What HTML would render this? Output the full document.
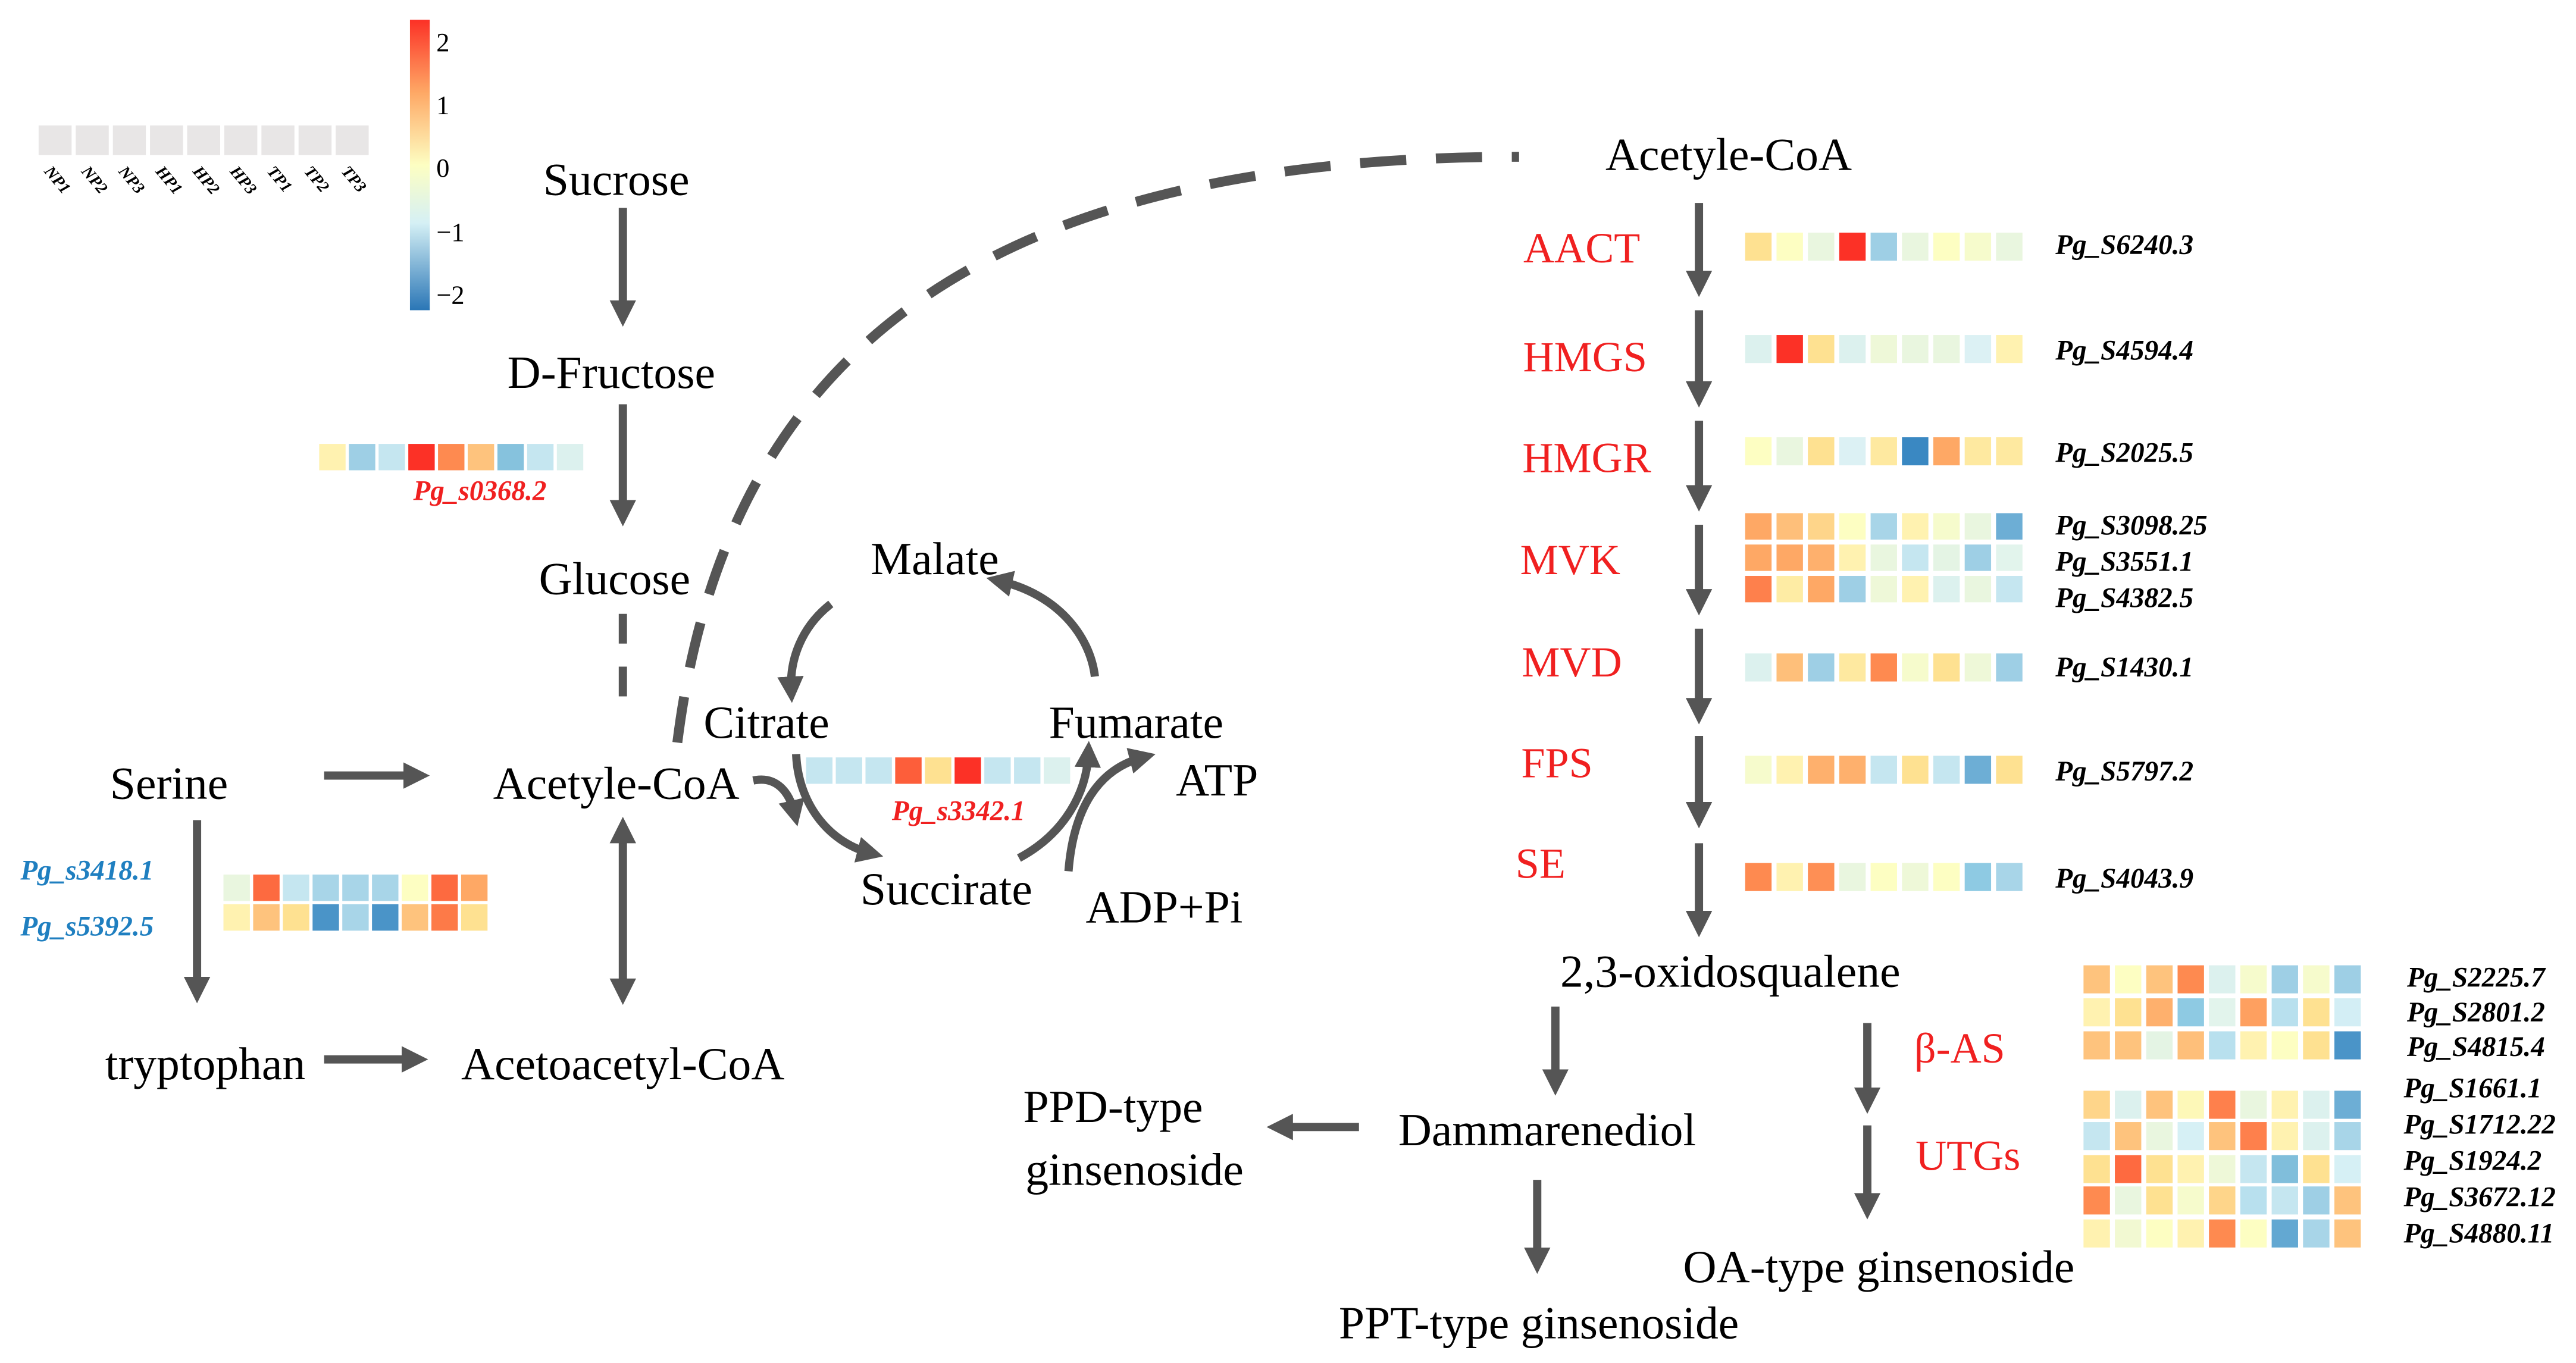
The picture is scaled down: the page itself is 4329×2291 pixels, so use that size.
<!DOCTYPE html>
<html><head><meta charset="utf-8"><style>html,body{margin:0;padding:0;background:#fff}svg{display:block}</style></head><body>
<svg width="4329" height="2291" viewBox="0 0 1560 826" xmlns="http://www.w3.org/2000/svg" font-family="'Liberation Serif', 'DejaVu Serif', serif">
<defs>
<marker id="ah" viewBox="0 0 10 10" refX="5" refY="5" markerWidth="3.2" markerHeight="3.2" orient="auto-start-reverse"><path d="M0,0 L10,5 L0,10 z" fill="#555"/></marker>
<linearGradient id="cb" x1="0" y1="0" x2="0" y2="1">
<stop offset="0" stop-color="#fc3126"/><stop offset="0.25" stop-color="#fea865"/><stop offset="0.5" stop-color="#fdfec2"/><stop offset="0.7" stop-color="#d5f0f5"/><stop offset="1" stop-color="#2a76b6"/></linearGradient>
</defs>
<g fill="#e8e6e6">
<rect x="23" y="76" width="20" height="18"/><rect x="45.5" y="76" width="20" height="18"/><rect x="68" y="76" width="20" height="18"/><rect x="90.5" y="76" width="20" height="18"/><rect x="113" y="76" width="20" height="18"/><rect x="135.5" y="76" width="20" height="18"/><rect x="158" y="76" width="20" height="18"/><rect x="180.5" y="76" width="20" height="18"/><rect x="203" y="76" width="20" height="18"/>
</g>
<g font-size="10" font-weight="bold" font-style="italic">
<text transform="translate(26,104) rotate(50)">NP1</text><text transform="translate(48.5,104) rotate(50)">NP2</text><text transform="translate(71,104) rotate(50)">NP3</text><text transform="translate(93.5,104) rotate(50)">HP1</text><text transform="translate(116,104) rotate(50)">HP2</text><text transform="translate(138.5,104) rotate(50)">HP3</text><text transform="translate(161,104) rotate(50)">TP1</text><text transform="translate(183.5,104) rotate(50)">TP2</text><text transform="translate(206,104) rotate(50)">TP3</text>
</g>
<rect x="248" y="12" width="12" height="176" fill="url(#cb)"/>
<g font-size="16"><text x="264" y="31">2</text><text x="264" y="69">1</text><text x="264" y="107">0</text><text x="264" y="146">−1</text><text x="264" y="184">−2</text></g>

<g font-size="28" text-anchor="middle">
<text x="373" y="118">Sucrose</text><text x="370" y="235">D-Fructose</text><text x="372" y="360">Glucose</text>
<text x="373" y="484">Acetyle-CoA</text><text x="102" y="484">Serine</text><text x="124" y="654">tryptophan</text>
<text x="377" y="654">Acetoacetyl-CoA</text><text x="566" y="348">Malate</text><text x="464" y="447">Citrate</text>
<text x="688" y="447">Fumarate</text><text x="737" y="482">ATP</text><text x="573" y="548">Succirate</text><text x="705" y="559">ADP+Pi</text>
<text x="1047" y="103">Acetyle-CoA</text><text x="1048" y="598">2,3-oxidosqualene</text>
<text x="674" y="680">PPD-type</text><text x="687" y="718">ginsenoside</text>
<text x="937" y="694">Dammarenediol</text><text x="932" y="811">PPT-type ginsenoside</text><text x="1138" y="777">OA-type ginsenoside</text>
</g>
<g font-size="26" fill="#f02020" text-anchor="middle">
<text x="958" y="159">AACT</text><text x="960" y="225">HMGS</text><text x="961" y="286">HMGR</text><text x="951" y="348">MVK</text><text x="952" y="410">MVD</text><text x="943" y="471">FPS</text><text x="933" y="532">SE</text>
<text x="1187" y="644">β-AS</text><text x="1192" y="709">UTGs</text>
</g>

<g stroke="#555" stroke-width="5" fill="none" marker-end="url(#ah)">
<path d="M377,126 V190"/><path d="M377,245 V311"/>
<path d="M196,470 H252"/><path d="M119,497 V600"/><path d="M196,642 H251"/>
<path d="M377,503 V601" marker-start="url(#ah)"/>
<path d="M1029,123 V172"/><path d="M1029,188 V239"/><path d="M1029,255 V302"/><path d="M1029,318 V365"/><path d="M1029,381 V431"/><path d="M1029,446 V494"/><path d="M1029,511 V560"/>
<path d="M942,610 V656"/><path d="M1131,620 V667"/><path d="M1131,682 V731"/>
<path d="M823,683 H775"/><path d="M931,715 V764"/>
<path d="M503,366 C485,380 478,400 479,418"/>
<path d="M663,410 C660,385 640,360 605,352"/>
<path d="M482,457 C483,485 500,510 527,517"/>
<path d="M617,520 C645,505 658,480 659,457"/>
<path d="M456,473 C470,470 478,480 481,493"/>
<path d="M647,528 C650,490 665,466 692,459"/>
</g>
<g stroke="#555" stroke-width="5" fill="none" stroke-dasharray="18,14">
<path d="M377,372 V434"/>
</g>
<path d="M410,450 C440,210 600,95 920,95" stroke="#555" stroke-width="6" fill="none" stroke-dasharray="28,18"/>

<g>
<g transform="translate(193,269)"><rect x="0" width="16" height="16" fill="#fff2b0"/><rect x="18" width="16" height="16" fill="#9ecfe5"/><rect x="36" width="16" height="16" fill="#c5e6f0"/><rect x="54" width="16" height="16" fill="#fc3126"/><rect x="72" width="16" height="16" fill="#fe8a50"/><rect x="90" width="16" height="16" fill="#fec37d"/><rect x="108" width="16" height="16" fill="#86c2dd"/><rect x="126" width="16" height="16" fill="#c5e6f0"/><rect x="144" width="16" height="16" fill="#dcf1ee"/></g>
<g transform="translate(488,459)"><rect x="0" width="16" height="16" fill="#c5e6f0"/><rect x="18" width="16" height="16" fill="#c5e6f0"/><rect x="36" width="16" height="16" fill="#c5e6f0"/><rect x="54" width="16" height="16" fill="#fd5e3a"/><rect x="72" width="16" height="16" fill="#fee191"/><rect x="90" width="16" height="16" fill="#fc3126"/><rect x="108" width="16" height="16" fill="#c5e6f0"/><rect x="126" width="16" height="16" fill="#c5e6f0"/><rect x="144" width="16" height="16" fill="#dcf1ee"/></g>
<g transform="translate(135,530)"><rect x="0" width="16" height="16" fill="#e9f6df"/><rect x="18" width="16" height="16" fill="#fd6a40"/><rect x="36" width="16" height="16" fill="#c5e6f0"/><rect x="54" width="16" height="16" fill="#a8d5e8"/><rect x="72" width="16" height="16" fill="#a8d5e8"/><rect x="90" width="16" height="16" fill="#a8d5e8"/><rect x="108" width="16" height="16" fill="#fdfec2"/><rect x="126" width="16" height="16" fill="#fd6a40"/><rect x="144" width="16" height="16" fill="#fea865"/></g>
<g transform="translate(135,548)"><rect x="0" width="16" height="16" fill="#fff2b0"/><rect x="18" width="16" height="16" fill="#fec37d"/><rect x="36" width="16" height="16" fill="#fee191"/><rect x="54" width="16" height="16" fill="#4a94c8"/><rect x="72" width="16" height="16" fill="#a8d5e8"/><rect x="90" width="16" height="16" fill="#4a94c8"/><rect x="108" width="16" height="16" fill="#fec37d"/><rect x="126" width="16" height="16" fill="#fd7a48"/><rect x="144" width="16" height="16" fill="#fee191"/></g>
</g>
<g font-size="17" font-weight="bold" font-style="italic">
<text x="250" y="303" fill="#f02020">Pg_s0368.2</text>
<text x="540" y="497" fill="#f02020">Pg_s3342.1</text>
<text x="12" y="533" fill="#1f7fc0">Pg_s3418.1</text>
<text x="12" y="567" fill="#1f7fc0">Pg_s5392.5</text>
</g>

<g>
<g transform="translate(1057,141)"><rect x="0" width="16" height="17" fill="#fee191"/><rect x="19" width="16" height="17" fill="#fdfec2"/><rect x="38" width="16" height="17" fill="#e9f6df"/><rect x="57" width="16" height="17" fill="#fc3126"/><rect x="76" width="16" height="17" fill="#9ecfe5"/><rect x="95" width="16" height="17" fill="#e9f6df"/><rect x="114" width="16" height="17" fill="#fdfec2"/><rect x="133" width="16" height="17" fill="#f6fbcc"/><rect x="152" width="16" height="17" fill="#e9f6df"/></g>
<g transform="translate(1057,203)"><rect x="0" width="16" height="17" fill="#dcf1ee"/><rect x="19" width="16" height="17" fill="#fc3126"/><rect x="38" width="16" height="17" fill="#fee191"/><rect x="57" width="16" height="17" fill="#dcf1ee"/><rect x="76" width="16" height="17" fill="#eef8d8"/><rect x="95" width="16" height="17" fill="#e9f6df"/><rect x="114" width="16" height="17" fill="#e9f6df"/><rect x="133" width="16" height="17" fill="#dcf1f4"/><rect x="152" width="16" height="17" fill="#fff2b0"/></g>
<g transform="translate(1057,265)"><rect x="0" width="16" height="17" fill="#fdfec2"/><rect x="19" width="16" height="17" fill="#e9f6df"/><rect x="38" width="16" height="17" fill="#fee191"/><rect x="57" width="16" height="17" fill="#dcf1f4"/><rect x="76" width="16" height="17" fill="#fee9a0"/><rect x="95" width="16" height="17" fill="#3a88c2"/><rect x="114" width="16" height="17" fill="#fea865"/><rect x="133" width="16" height="17" fill="#fee9a0"/><rect x="152" width="16" height="17" fill="#fee9a0"/></g>
<g transform="translate(1057,311)"><rect x="0" width="16" height="16" fill="#fea865"/><rect x="19" width="16" height="16" fill="#febf7a"/><rect x="38" width="16" height="16" fill="#fed58a"/><rect x="57" width="16" height="16" fill="#fdfec2"/><rect x="76" width="16" height="16" fill="#a8d5e8"/><rect x="95" width="16" height="16" fill="#fff2b0"/><rect x="114" width="16" height="16" fill="#f6fbcc"/><rect x="133" width="16" height="16" fill="#e9f6df"/><rect x="152" width="16" height="16" fill="#6daed5"/></g>
<g transform="translate(1057,330)"><rect x="0" width="16" height="16" fill="#fea865"/><rect x="19" width="16" height="16" fill="#fea865"/><rect x="38" width="16" height="16" fill="#feb06d"/><rect x="57" width="16" height="16" fill="#fff2b0"/><rect x="76" width="16" height="16" fill="#e9f6df"/><rect x="95" width="16" height="16" fill="#c5e6f0"/><rect x="114" width="16" height="16" fill="#e4f4e4"/><rect x="133" width="16" height="16" fill="#9ecfe5"/><rect x="152" width="16" height="16" fill="#e2f4ec"/></g>
<g transform="translate(1057,349)"><rect x="0" width="16" height="16" fill="#fe804c"/><rect x="19" width="16" height="16" fill="#feeca4"/><rect x="38" width="16" height="16" fill="#fea865"/><rect x="57" width="16" height="16" fill="#9ecfe5"/><rect x="76" width="16" height="16" fill="#eef8d8"/><rect x="95" width="16" height="16" fill="#fff2b0"/><rect x="114" width="16" height="16" fill="#dcf1ee"/><rect x="133" width="16" height="16" fill="#e9f6df"/><rect x="152" width="16" height="16" fill="#c5e6f0"/></g>
<g transform="translate(1057,396)"><rect x="0" width="16" height="17" fill="#dcf1ee"/><rect x="19" width="16" height="17" fill="#febf7a"/><rect x="38" width="16" height="17" fill="#9ecfe5"/><rect x="57" width="16" height="17" fill="#fee9a0"/><rect x="76" width="16" height="17" fill="#fe8a50"/><rect x="95" width="16" height="17" fill="#f6fbcc"/><rect x="114" width="16" height="17" fill="#fee191"/><rect x="133" width="16" height="17" fill="#eef8d8"/><rect x="152" width="16" height="17" fill="#9ecfe5"/></g>
<g transform="translate(1057,458)"><rect x="0" width="16" height="17" fill="#f6fbcc"/><rect x="19" width="16" height="17" fill="#fff2b0"/><rect x="38" width="16" height="17" fill="#feb06d"/><rect x="57" width="16" height="17" fill="#feb06d"/><rect x="76" width="16" height="17" fill="#c5e6f0"/><rect x="95" width="16" height="17" fill="#fee191"/><rect x="114" width="16" height="17" fill="#c5e6f0"/><rect x="133" width="16" height="17" fill="#6daed5"/><rect x="152" width="16" height="17" fill="#fee191"/></g>
<g transform="translate(1057,523)"><rect x="0" width="16" height="17" fill="#fe8a50"/><rect x="19" width="16" height="17" fill="#fff2b0"/><rect x="38" width="16" height="17" fill="#fe8f55"/><rect x="57" width="16" height="17" fill="#e9f6df"/><rect x="76" width="16" height="17" fill="#fdfec2"/><rect x="95" width="16" height="17" fill="#eef8d8"/><rect x="114" width="16" height="17" fill="#fdfec2"/><rect x="133" width="16" height="17" fill="#8ecae3"/><rect x="152" width="16" height="17" fill="#a8d5e8"/></g>
</g>
<g font-size="17" font-weight="bold" font-style="italic">
<text x="1245" y="154">Pg_S6240.3</text><text x="1245" y="218">Pg_S4594.4</text><text x="1245" y="280">Pg_S2025.5</text>
<text x="1245" y="324">Pg_S3098.25</text><text x="1245" y="346">Pg_S3551.1</text><text x="1245" y="368">Pg_S4382.5</text>
<text x="1245" y="410">Pg_S1430.1</text><text x="1245" y="473">Pg_S5797.2</text><text x="1245" y="538">Pg_S4043.9</text>
</g>

<g>
<g transform="translate(1262,585)"><rect x="0" width="16" height="17" fill="#fec37d"/><rect x="19" width="16" height="17" fill="#fdfec2"/><rect x="38" width="16" height="17" fill="#fec37d"/><rect x="57" width="16" height="17" fill="#fe8a50"/><rect x="76" width="16" height="17" fill="#dcf1ee"/><rect x="95" width="16" height="17" fill="#f6fbcc"/><rect x="114" width="16" height="17" fill="#9ecfe5"/><rect x="133" width="16" height="17" fill="#f6fbcc"/><rect x="152" width="16" height="17" fill="#9ecfe5"/></g>
<g transform="translate(1262,605)"><rect x="0" width="16" height="17" fill="#fff2b0"/><rect x="19" width="16" height="17" fill="#fee191"/><rect x="38" width="16" height="17" fill="#feb06d"/><rect x="57" width="16" height="17" fill="#8ecae3"/><rect x="76" width="16" height="17" fill="#e2f4ec"/><rect x="95" width="16" height="17" fill="#fea060"/><rect x="114" width="16" height="17" fill="#b8e0ee"/><rect x="133" width="16" height="17" fill="#fee191"/><rect x="152" width="16" height="17" fill="#d3eef5"/></g>
<g transform="translate(1262,625)"><rect x="0" width="16" height="17" fill="#fec37d"/><rect x="19" width="16" height="17" fill="#fec37d"/><rect x="38" width="16" height="17" fill="#e4f4e4"/><rect x="57" width="16" height="17" fill="#febf7a"/><rect x="76" width="16" height="17" fill="#b8e0ee"/><rect x="95" width="16" height="17" fill="#fff2b0"/><rect x="114" width="16" height="17" fill="#fdfec2"/><rect x="133" width="16" height="17" fill="#fee191"/><rect x="152" width="16" height="17" fill="#4a94c8"/></g>
<g transform="translate(1262,661)"><rect x="0" width="16" height="17" fill="#fed58a"/><rect x="19" width="16" height="17" fill="#dcf1ee"/><rect x="38" width="16" height="17" fill="#fec37d"/><rect x="57" width="16" height="17" fill="#fdf8b8"/><rect x="76" width="16" height="17" fill="#fe804c"/><rect x="95" width="16" height="17" fill="#e9f6df"/><rect x="114" width="16" height="17" fill="#fff2b0"/><rect x="133" width="16" height="17" fill="#dcf1ee"/><rect x="152" width="16" height="17" fill="#6daed5"/></g>
<g transform="translate(1262,680)"><rect x="0" width="16" height="17" fill="#c5e6f0"/><rect x="19" width="16" height="17" fill="#fec37d"/><rect x="38" width="16" height="17" fill="#e9f6df"/><rect x="57" width="16" height="17" fill="#d6f0f5"/><rect x="76" width="16" height="17" fill="#fec37d"/><rect x="95" width="16" height="17" fill="#fe804c"/><rect x="114" width="16" height="17" fill="#fff2b0"/><rect x="133" width="16" height="17" fill="#dcf1ee"/><rect x="152" width="16" height="17" fill="#a8d5e8"/></g>
<g transform="translate(1262,700)"><rect x="0" width="16" height="17" fill="#fee191"/><rect x="19" width="16" height="17" fill="#fe6a40"/><rect x="38" width="16" height="17" fill="#fee191"/><rect x="57" width="16" height="17" fill="#fff2b0"/><rect x="76" width="16" height="17" fill="#eef8d8"/><rect x="95" width="16" height="17" fill="#c5e6f0"/><rect x="114" width="16" height="17" fill="#80bedb"/><rect x="133" width="16" height="17" fill="#fee191"/><rect x="152" width="16" height="17" fill="#d6f0f5"/></g>
<g transform="translate(1262,719)"><rect x="0" width="16" height="17" fill="#fe8a50"/><rect x="19" width="16" height="17" fill="#e9f6df"/><rect x="38" width="16" height="17" fill="#fee191"/><rect x="57" width="16" height="17" fill="#f6fbcc"/><rect x="76" width="16" height="17" fill="#fed58a"/><rect x="95" width="16" height="17" fill="#b8e0ee"/><rect x="114" width="16" height="17" fill="#c5e6f0"/><rect x="133" width="16" height="17" fill="#9ecfe5"/><rect x="152" width="16" height="17" fill="#fec37d"/></g>
<g transform="translate(1262,739)"><rect x="0" width="16" height="17" fill="#fff2b0"/><rect x="19" width="16" height="17" fill="#f2f9d2"/><rect x="38" width="16" height="17" fill="#fdfec2"/><rect x="57" width="16" height="17" fill="#fff2b0"/><rect x="76" width="16" height="17" fill="#fe8a50"/><rect x="95" width="16" height="17" fill="#fdfec2"/><rect x="114" width="16" height="17" fill="#63a8d2"/><rect x="133" width="16" height="17" fill="#a8d5e8"/><rect x="152" width="16" height="17" fill="#fec37d"/></g>
</g>
<g font-size="17" font-weight="bold" font-style="italic">
<text x="1458" y="598">Pg_S2225.7</text><text x="1458" y="619">Pg_S2801.2</text><text x="1458" y="640">Pg_S4815.4</text>
<text x="1456" y="665">Pg_S1661.1</text><text x="1456" y="687">Pg_S1712.22</text><text x="1456" y="709">Pg_S1924.2</text>
<text x="1456" y="731">Pg_S3672.12</text><text x="1456" y="753">Pg_S4880.11</text>
</g>
</svg>
</body></html>
